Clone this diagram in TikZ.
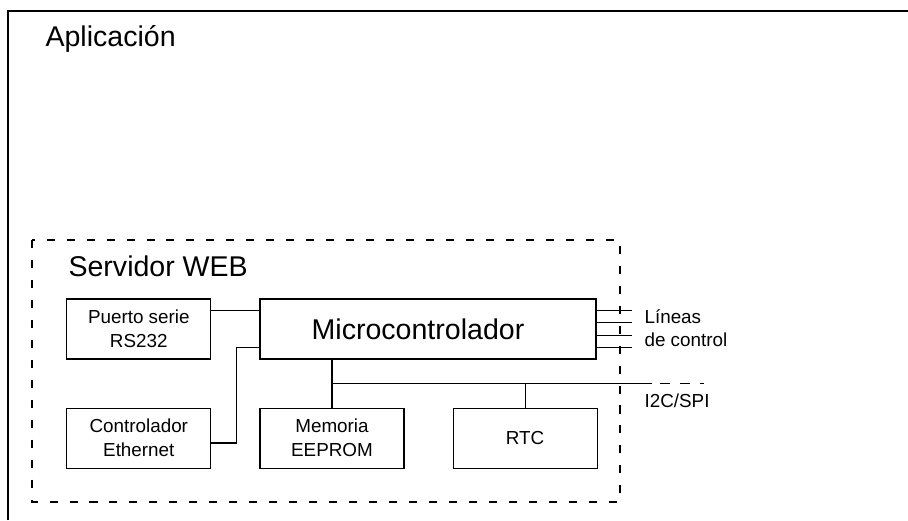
\documentclass[tikz,border=0pt]{standalone}
\usepackage{fontspec}
\setmainfont{Liberation Sans}
\usetikzlibrary{positioning, calc}

\begin{document}
\begin{tikzpicture} [
    x=0.025cm, y=-0.025cm,
    node distance=1.2cm,
    line width=0.8pt,
    block/.style={rectangle, draw=black, minimum width=3.6cm, minimum height=1.5cm, font=\fontsize{13.4pt}{17pt}\selectfont, align=center},
    bigblock/.style={block, minimum width=8.4cm, font=\fontsize{20.3pt}{24pt}\selectfont},
    heading/.style={anchor=base west, inner sep=0pt, font=\fontsize{20.3pt}{24pt}\selectfont},
    tag/.style={anchor=base west, inner sep=0pt, font=\fontsize{13.4pt}{16.3pt}\selectfont, align=left},
    dashbox/.style={dash pattern=on 5.7pt off 8.5pt},
    busdash/.style={dash pattern=on 7.1pt off 7.1pt, dash phase=8.5pt}
]
\useasboundingbox (0,0) rectangle (908,520);

% Blocks
\node[bigblock] (micro) at (428,329) {\hspace*{-0.5cm}Microcontrolador};
\node[block, left=of micro] (puerto) {Puerto serie\\RS232};
\node[block, below=of puerto] (eth) {Controlador\\Ethernet};
\node[block, right=of eth] (mem) {Memoria\\EEPROM};
\node[block, right=of mem] (rtc) {RTC};

% Titles and labels
\node[heading] (aplic) at (45,46) {Aplicación};
\node[heading] (servidor) at (68,276) {Servidor WEB};
\node[tag] (lineas) at (644,346) {Líneas\\de control};
\node[tag] (i2c) at (644,407) {I2C/SPI};

% Frames
\draw (8,520) -- (8,11) -- (908,11);
\draw[dashbox] (32,240) rectangle (620,502);

% Serial and Ethernet
\draw ($(puerto.north east)!0.2!(puerto.south east)$) -- ($(micro.north west)!0.2!(micro.south west)$);
\draw ($(eth.north east)!0.58!(eth.south east)$) -- ++(25,0) |- ($(micro.north west)!0.8!(micro.south west)$);

% Control lines
\foreach \f in {0.2,0.4,0.6,0.8}
    \draw ($(micro.north east)!\f!(micro.south east)$) -- ++(35,0);

% Bus
\coordinate (busL) at ($(micro.south -| mem.north)!0.5!(mem.north)$);
\coordinate (busR) at ($(busL -| i2c.west)+(8,0)$);
\coordinate (busEnd) at ($(busR)+(52,0)$);
\draw (micro.south -| mem.north) -- (mem.north);
\draw (busL) -- (busR);
\draw[busdash] (busR) -- (busEnd);
\draw (busL -| rtc.north) -- (rtc.north);

\end{tikzpicture}
\end{document}
